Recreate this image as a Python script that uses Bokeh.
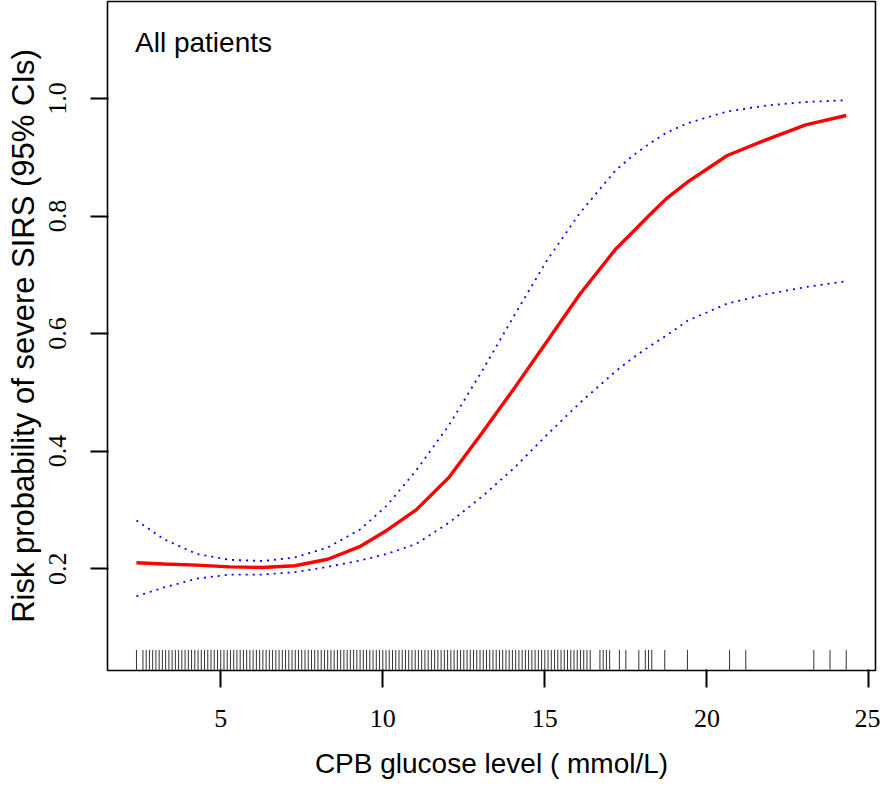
from bokeh.plotting import figure
from bokeh.models import Range1d, FixedTicker, PrintfTickFormatter, Label
from bokeh.embed import file_html
from bokeh.resources import INLINE

# ---- data ----
glucose = [2.4, 3.25, 4.26, 5.28, 6.28, 7.29, 8.3, 9.31, 10.12, 11.03, 12.04,
           13.05, 14.07, 15.07, 16.08, 17.19, 17.7, 18.2, 18.76, 19.41, 20.63,
           21.84, 23.05, 24.3]
risk_fit = [0.210, 0.208, 0.206, 0.203, 0.202, 0.205, 0.216, 0.238, 0.265, 0.300, 0.355,
            0.430, 0.508, 0.587, 0.667, 0.744, 0.772, 0.800, 0.830, 0.858, 0.903,
            0.930, 0.955, 0.971]
risk_upper = [0.282, 0.250, 0.225, 0.215, 0.213, 0.219, 0.236, 0.267, 0.307, 0.367, 0.444,
              0.535, 0.632, 0.725, 0.805, 0.878, 0.902, 0.922, 0.942, 0.958, 0.978,
              0.988, 0.994, 0.997]
risk_lower = [0.153, 0.168, 0.183, 0.190, 0.190, 0.194, 0.203, 0.214, 0.225, 0.242, 0.278,
              0.322, 0.372, 0.428, 0.482, 0.536, 0.558, 0.577, 0.597, 0.622, 0.651,
              0.667, 0.679, 0.689]

rug_x = [2.4,
         2.6, 2.7, 2.8, 2.9, 3.0, 3.1, 3.2, 3.3, 3.4, 3.5, 3.6, 3.7, 3.8, 3.9,
         4.0, 4.1, 4.2, 4.3, 4.4, 4.5, 4.6, 4.7, 4.8, 4.9,
         5.0, 5.1, 5.2, 5.3, 5.4, 5.5, 5.6, 5.7, 5.8, 5.9,
         6.0, 6.1, 6.2, 6.3, 6.4, 6.5, 6.6, 6.7, 6.8, 6.9,
         7.0, 7.1, 7.2, 7.3, 7.4, 7.5, 7.6, 7.7, 7.8, 7.9,
         8.0, 8.1, 8.2, 8.3, 8.4, 8.5, 8.6, 8.7, 8.8, 8.9,
         9.0, 9.1, 9.2, 9.3, 9.4, 9.5, 9.6, 9.7, 9.8, 9.9,
         10.0, 10.1, 10.2, 10.3, 10.4, 10.5, 10.6, 10.7, 10.8, 10.9,
         11.0, 11.1, 11.2, 11.3, 11.4, 11.5, 11.6, 11.7, 11.8, 11.9,
         12.0, 12.1, 12.2, 12.3, 12.4, 12.5, 12.6, 12.7, 12.8, 12.9,
         13.0, 13.1, 13.2, 13.3, 13.4, 13.5, 13.6, 13.7, 13.8, 13.9,
         14.0, 14.1, 14.2, 14.3, 14.4, 14.5, 14.6, 14.7, 14.8, 14.9,
         15.0, 15.1, 15.2, 15.3, 15.4, 15.5, 15.6, 15.7, 15.8, 15.9,
         16.0, 16.1, 16.2, 16.3, 16.4,
         16.7, 16.8, 16.9, 17.0, 17.3, 17.5, 17.9, 18.1, 18.2, 18.3,
         18.7, 19.4, 20.7, 21.2, 23.3, 23.8, 24.3]

x_ticks = [5, 10, 15, 20, 25]
y_ticks = [0.2, 0.4, 0.6, 0.8, 1.0]

x_title = "CPB glucose level ( mmol/L)"
y_title = "Risk probability of severe SIRS (95% CIs)"
panel_title = "All patients"

# ---- figure ----
y_start, y_end = 0.0267, 1.165
p = figure(width=880, height=783, output_backend="svg", toolbar_location=None,
           x_range=Range1d(1.506, 25.203), y_range=Range1d(y_start, y_end),
           min_border_left=107, min_border_right=5, min_border_top=1,
           min_border_bottom=113)
p.xgrid.visible = False
p.ygrid.visible = False
p.outline_line_color = "black"
p.outline_line_width = 1.6

for ax in (p.xaxis[0], p.yaxis[0]):
    ax.axis_line_color = "black"
    ax.major_tick_in = 1
    ax.major_tick_out = 17
    ax.major_tick_line_width = 2
    ax.major_tick_line_color = "black"
    ax.major_label_text_font = "Liberation Serif"
    ax.major_label_text_font_size = "26px"
    ax.major_label_text_color = "black"
    ax.axis_label_text_font = "Liberation Sans"
    ax.axis_label_text_font_style = "normal"
    ax.axis_label_text_color = "black"

p.xaxis[0].ticker = FixedTicker(ticks=x_ticks)
p.xaxis[0].formatter = PrintfTickFormatter(format="%d")
p.xaxis[0].major_label_standoff = 22
p.xaxis[0].axis_label = x_title
p.xaxis[0].axis_label_text_font_size = "28px"
p.xaxis[0].axis_label_standoff = 18

p.yaxis[0].ticker = FixedTicker(ticks=y_ticks)
p.yaxis[0].formatter = PrintfTickFormatter(format="%.1f")
p.yaxis[0].major_label_orientation = "vertical"
p.yaxis[0].major_label_standoff = 24
p.yaxis[0].axis_label = y_title
p.yaxis[0].axis_label_text_font_size = "31px"
p.yaxis[0].axis_label_standoff = 6

# rug along the bottom
rug_len = 0.035
p.segment(x0=rug_x, y0=[y_start] * len(rug_x), x1=rug_x,
          y1=[y_start + rug_len] * len(rug_x), line_color="#333333", line_width=1)

# confidence bands and fit
p.line(glucose, risk_upper, line_color="#0000FF", line_width=1.8, line_dash="2 5")
p.line(glucose, risk_lower, line_color="#0000FF", line_width=1.8, line_dash="2 5")
p.line(glucose, risk_fit, line_color="#FF0000", line_width=3.4)

p.add_layout(Label(x=2.355, y=1.095, text=panel_title, text_font="Liberation Sans",
                   text_font_size="28px", text_color="black",
                   text_baseline="alphabetic", text_align="left"))

open("out.html", "w").write(file_html(p, INLINE))
